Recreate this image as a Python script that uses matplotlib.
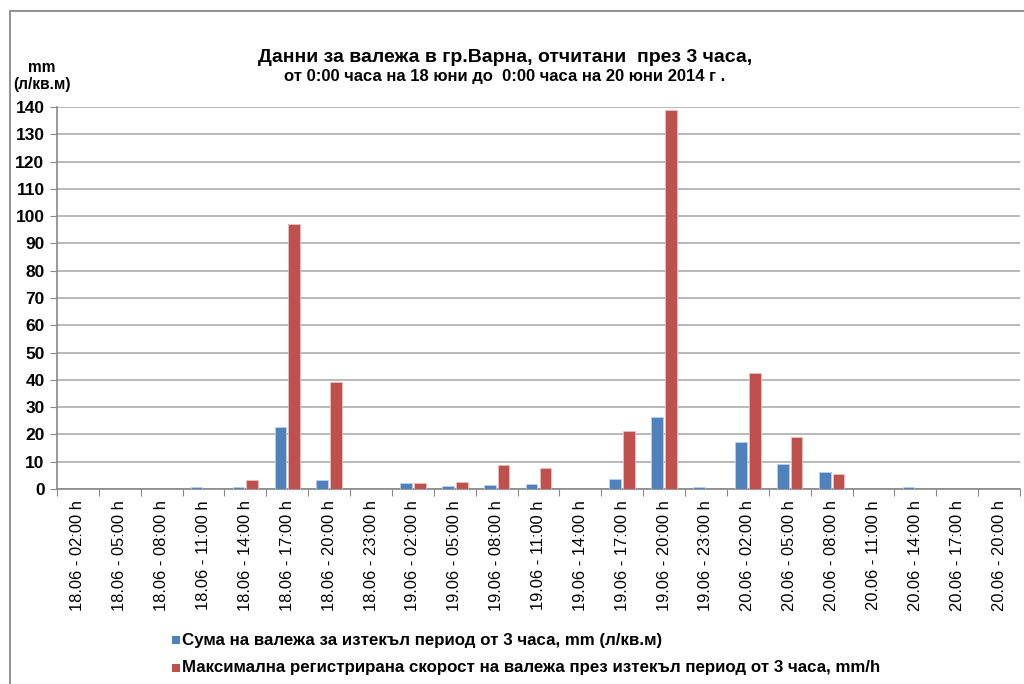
import matplotlib
matplotlib.use("Agg")
import matplotlib.pyplot as plt
from matplotlib.patches import Rectangle
import numpy as np

plt.rcParams['font.family'] = ['Liberation Sans', 'DejaVu Sans']

categories = [
    "18.06 - 02:00 h", "18.06 - 05:00 h", "18.06 - 08:00 h", "18.06 - 11:00 h",
    "18.06 - 14:00 h", "18.06 - 17:00 h", "18.06 - 20:00 h", "18.06 - 23:00 h",
    "19.06 - 02:00 h", "19.06 - 05:00 h", "19.06 - 08:00 h", "19.06 - 11:00 h",
    "19.06 - 14:00 h", "19.06 - 17:00 h", "19.06 - 20:00 h", "19.06 - 23:00 h",
    "20.06 - 02:00 h", "20.06 - 05:00 h", "20.06 - 08:00 h", "20.06 - 11:00 h",
    "20.06 - 14:00 h", "20.06 - 17:00 h", "20.06 - 20:00 h",
]
sum_3h = [0, 0, 0, 0.6, 0.6, 22.7, 3.2, 0, 2.2, 1.0, 1.3, 1.7,
          0, 3.5, 26.3, 0.6, 17.3, 9.0, 6.2, 0, 0.6, 0, 0]
max_rate = [0, 0, 0, 0, 3.2, 97.0, 39.1, 0, 2.2, 2.6, 8.7, 7.8,
            0, 21.2, 139.0, 0, 42.5, 18.9, 5.5, 0, 0, 0, 0]
yticks = list(range(0, 141, 10))

title1 = "Данни за валежа в гр.Варна, отчитани  през 3 часа,"
title2 = "от 0:00 часа на 18 юни до  0:00 часа на 20 юни 2014 г ."
ylabel = "mm\n(л/кв.м)"
legend_labels = ["Сума на валежа за изтекъл период от 3 часа, mm (л/кв.м)",
                 "Максимална регистрирана скорост на валежа през изтекъл период от 3 часа, mm/h"]

blue = "#4F81BD"
red = "#C0504D"

fig = plt.figure(figsize=(10.24, 6.84), dpi=100)
ax = fig.add_axes([57/1024, 1-489/684, (1020-57)/1024, (489-107)/684])

n = len(categories)
x = np.arange(n)
w = 0.28
ax.bar(x - w/2 - 0.025, sum_3h, width=w, color=blue, edgecolor="#BFD0E8", linewidth=0.6, zorder=3)
ax.bar(x + w/2 + 0.025, max_rate, width=w, color=red, edgecolor="#E8BFBE", linewidth=0.6, zorder=3)

ax.set_xlim(-0.5, n - 0.5)
ax.set_ylim(0, 140)
ax.set_yticks(yticks)
ax.set_yticklabels([str(v) for v in yticks], fontsize=12.5, fontweight='bold')
ax.yaxis.grid(True, color="#B3B3B3", linewidth=1.3, zorder=0)
ax.set_axisbelow(True)

ax.set_xticks(np.arange(-0.5, n, 1.0), minor=False)
ax.set_xticklabels([])
ax.set_xticks(x, minor=True)
ax.set_xticklabels(categories, minor=True, rotation=90, fontsize=11.9)
ax.tick_params(axis='x', which='minor', length=0, pad=8)
ax.tick_params(axis='x', which='major', length=5, color="#888888", direction='out')
ax.tick_params(axis='y', length=5, color="#888888", direction='out', pad=4)

for s in ['top', 'right']:
    ax.spines[s].set_visible(False)
for s in ['left', 'bottom']:
    ax.spines[s].set_color("#888888")
    ax.spines[s].set_linewidth(1.2)

fig.text(505/1024, 1-57/684, title1, ha='center', va='center', fontsize=14, fontweight='bold')
fig.text(505/1024, 1-77/684, title2, ha='center', va='center', fontsize=12, fontweight='bold')
fig.text(41.5/1024, 1-76/684, ylabel, ha='center', va='center', fontsize=11.2, fontweight='bold', linespacing=1.15)

# outer chart border
fig.add_artist(Rectangle((10/1024, -0.01), 1.02, 1 - 11/684 + 0.01, transform=fig.transFigure,
                         fill=False, edgecolor="#888888", linewidth=1.3))

# legend
for i, (lab, col) in enumerate(zip(legend_labels, [blue, red])):
    yy = 1 - (640 + i*27.5)/684
    fig.add_artist(Rectangle((172/1024, yy - 4/684), 8/1024, 8/684, transform=fig.transFigure,
                             facecolor=col, edgecolor='none'))
    fig.text(182/1024, yy, lab, ha='left', va='center', fontsize=12.2, fontweight='bold')

fig.savefig("out.png", dpi=100)
